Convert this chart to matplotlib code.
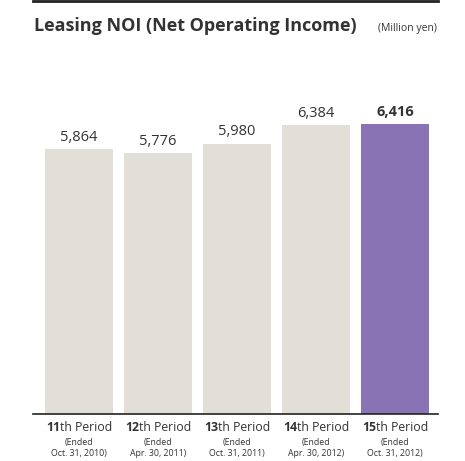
"""Leasing NOI bar chart, 11th to 15th period."""

import matplotlib

matplotlib.use("Agg")
import matplotlib.pyplot as plt
from matplotlib.lines import Line2D
from matplotlib.offsetbox import AnnotationBbox, HPacker, TextArea, VPacker

periods = ["11", "12", "13", "14", "15"]
ended = ["Oct. 31, 2010", "Apr. 30, 2011", "Oct. 31, 2011", "Apr. 30, 2012", "Oct. 31, 2012"]
noi = [5864, 5776, 5980, 6384, 6416]
value_labels = ["5,864", "5,776", "5,980", "6,384", "6,416"]

GRAY = "#e2ded8"
PURPLE = "#8a73b5"
TEXT = "#333333"

plt.rcParams["font.family"] = ["Open Sans", "DejaVu Sans"]

W, H = 465, 461
fig = plt.figure(figsize=(W / 100, H / 100), dpi=100)
# axes spans x 33..438 px, y 100..414 px
ax = fig.add_axes([33 / W, (H - 414) / H, (438 - 33) / W, (414 - 100) / H])

x = list(range(len(noi)))
colors = [GRAY] * (len(noi) - 1) + [PURPLE]
ax.bar(x, noi, width=68 / 79, color=colors)
ax.set_xlim(-46 / 79, 4 + 43 / 79)
ax.set_ylim(0, 314 / 0.0452)

for i, (v, lab) in enumerate(zip(noi, value_labels)):
    last = i == len(noi) - 1
    ax.annotate(lab, (i, v), xytext=(0, 6), textcoords="offset points",
                ha="center", va="baseline", fontsize=10.5,
                fontweight="bold" if last else "normal", color=TEXT)

for s in ["top", "right", "left"]:
    ax.spines[s].set_visible(False)
ax.spines["bottom"].set_color("#222222")
ax.spines["bottom"].set_linewidth(1.2)
ax.set_xticks([])
ax.set_yticks([])

# category labels: bold number + regular suffix, small date lines
for i, (p, d) in enumerate(zip(periods, ended)):
    line1 = HPacker(children=[
        TextArea(p, textprops=dict(fontsize=8.8, fontweight="bold", color=TEXT)),
        TextArea("th Period", textprops=dict(fontsize=8.8, color=TEXT)),
    ], pad=0, sep=0, align="baseline")
    small = TextArea("(Ended\n" + d + ")",
                     textprops=dict(fontsize=6.3, color=TEXT, ha="center",
                                    multialignment="center", linespacing=1.2))
    box = VPacker(children=[line1, small], pad=0, sep=3, align="center")
    ab = AnnotationBbox(box, (i, 0), xybox=(0, -5), xycoords=("data", "axes fraction"),
                        boxcoords="offset points", box_alignment=(0.5, 1),
                        frameon=False, pad=0)
    ax.add_artist(ab)

# header
fig.add_artist(Line2D([33 / W, 438 / W], [1 - 1 / H, 1 - 1 / H], color="#222222", linewidth=2))
fig.text(34 / W, 1 - 31 / H, "Leasing NOI (Net Operating Income)", fontsize=13,
         fontweight="bold", color=TEXT, va="baseline")
fig.text(437 / W, 1 - 31 / H, "(Million yen)", fontsize=7.5, color=TEXT,
         ha="right", va="baseline")

fig.savefig("out.png", dpi=100)
